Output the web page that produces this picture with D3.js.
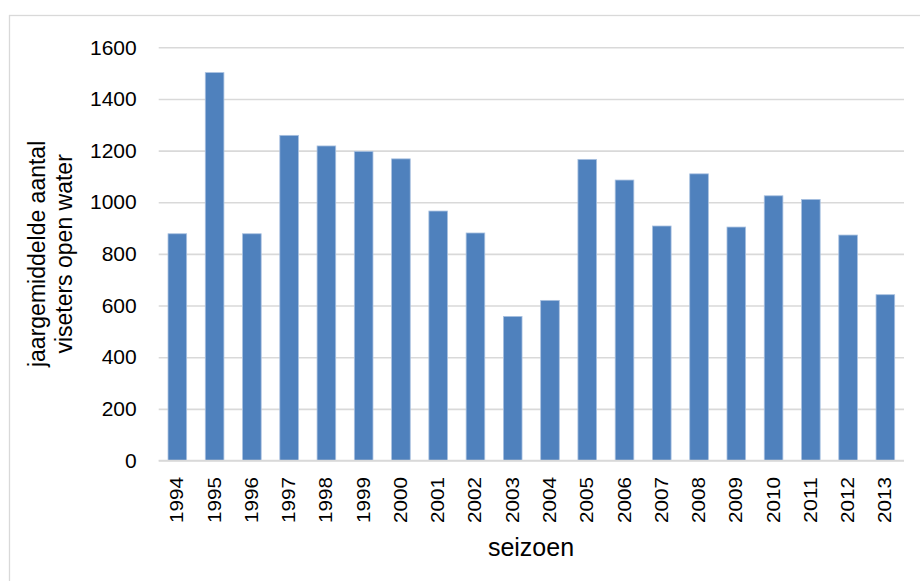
<!DOCTYPE html>
<html>
<head>
<meta charset="utf-8">
<script src="https://cdn.jsdelivr.net/npm/d3@7"></script>
<style>
  html, body { margin: 0; padding: 0; background: #fff; }
  svg { display: block; }
  text { font-family: "Liberation Sans", Arial, sans-serif; fill: #000; }
</style>
</head>
<body>
<svg id="chart" width="920" height="581"></svg>
<script>
// Seasons and yearly average number of anglers on open water
const seasons = ["1994","1995","1996","1997","1998","1999","2000","2001","2002","2003",
                 "2004","2005","2006","2007","2008","2009","2010","2011","2012","2013"];
const averages = [878, 1502, 878, 1259, 1218, 1197, 1168, 966, 881, 558,
                  620, 1166, 1086, 908, 1110, 904, 1025, 1011, 873, 642];
const yTicks = [0, 200, 400, 600, 800, 1000, 1200, 1400, 1600];
const yTitleLines = ["jaargemiddelde aantal", "viseters open water"];
const xTitle = "seizoen";

const svg = d3.select("#chart");

// outer chart frame (runs off the right and bottom edges)
svg.append("rect")
  .attr("x", 9.5).attr("y", 15.5)
  .attr("width", 1000).attr("height", 1000)
  .attr("fill", "none")
  .attr("stroke", "#d9d9d9")
  .attr("stroke-width", 1.3);

const plot = { left: 158.7, right: 904, top: 47.3, bottom: 460.5 };

const x = d3.scaleBand()
  .domain(seasons)
  .range([plot.left, plot.right])
  .paddingInner(0.5)
  .paddingOuter(0.25);

const y = d3.scaleLinear()
  .domain([0, 1600])
  .range([plot.bottom, plot.top]);

// horizontal gridlines
const yAxis = d3.axisLeft(y)
  .tickValues(yTicks)
  .tickFormat(d3.format("d"))
  .tickSize(-(plot.right - plot.left))
  .tickPadding(22);

const gy = svg.append("g")
  .attr("transform", `translate(${plot.left},0)`)
  .call(yAxis);
gy.select(".domain").remove();
gy.selectAll(".tick line")
  .attr("stroke", "#d9d9d9")
  .attr("stroke-width", 1.6);
gy.selectAll(".tick text")
  .attr("font-size", 21)
  .attr("font-family", "'Liberation Sans', Arial, sans-serif")
  .attr("fill", "#000");

// bars
svg.append("g")
  .selectAll("rect")
  .data(seasons.map((s, i) => ({ season: s, value: averages[i] })))
  .join("rect")
  .attr("x", d => x(d.season))
  .attr("y", d => y(d.value))
  .attr("width", x.bandwidth())
  .attr("height", d => y(0) - y(d.value))
  .attr("fill", "#4f81bd")
  .attr("stroke", "#a9c1e0")
  .attr("stroke-width", 0.8);

// category axis with rotated season labels
const xAxis = d3.axisBottom(x).tickSize(0).tickPadding(0);
const gx = svg.append("g")
  .attr("transform", `translate(0,${plot.bottom})`)
  .call(xAxis);
gx.select(".domain")
  .attr("stroke", "#d9d9d9")
  .attr("stroke-width", 1.6)
  .attr("d", `M${plot.left},0H${plot.right}`);
gx.selectAll(".tick text")
  .attr("font-size", 18)
  .attr("font-family", "'Liberation Sans', Arial, sans-serif")
  .attr("fill", "#000")
  .attr("text-anchor", "end")
  .attr("dy", null)
  .attr("y", 0)
  .attr("textLength", 46)
  .attr("lengthAdjust", "spacingAndGlyphs")
  .attr("dominant-baseline", "central")
  .attr("transform", "translate(0,16.5) rotate(-90)");

// axis titles
const yTitle = svg.append("text")
  .attr("transform", `translate(0,${(plot.top + plot.bottom) / 2}) rotate(-90)`)
  .attr("text-anchor", "middle")
  .attr("font-size", 23);
yTitle.selectAll("tspan")
  .data(yTitleLines)
  .join("tspan")
  .attr("x", 0)
  .attr("y", (d, i) => 45 + i * 27)
  .text(d => d);

svg.append("text")
  .attr("x", 531)
  .attr("y", 556)
  .attr("text-anchor", "middle")
  .attr("font-size", 25)
  .text(xTitle);
</script>
</body>
</html>
